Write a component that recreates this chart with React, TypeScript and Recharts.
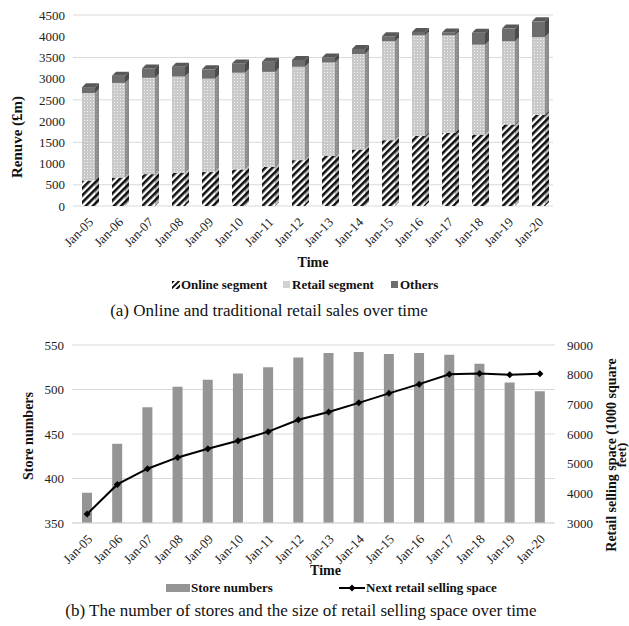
import { BarChart, Bar, ComposedChart, Line, XAxis, YAxis, CartesianGrid, Legend } from 'recharts';

const months = ['Jan-05', 'Jan-06', 'Jan-07', 'Jan-08', 'Jan-09', 'Jan-10', 'Jan-11', 'Jan-12', 'Jan-13', 'Jan-14', 'Jan-15', 'Jan-16', 'Jan-17', 'Jan-18', 'Jan-19', 'Jan-20'];
const onlineSegment = [600, 670, 750, 780, 800, 860, 920, 1080, 1180, 1330, 1550, 1650, 1720, 1680, 1920, 2150];
const retailSegment = [2060, 2230, 2270, 2270, 2200, 2280, 2240, 2200, 2200, 2250, 2330, 2370, 2300, 2120, 1960, 1830];
const others = [140, 170, 220, 230, 220, 220, 240, 160, 120, 120, 120, 80, 70, 280, 300, 370];
const revenueTicks = [0, 500, 1000, 1500, 2000, 2500, 3000, 3500, 4000, 4500];

const storeNumbers = [384, 439, 480, 503, 511, 518, 525, 536, 541, 542, 540, 541, 539, 529, 508, 498];
const sellingSpace = [3300, 4300, 4830, 5210, 5500, 5770, 6080, 6480, 6740, 7050, 7370, 7680, 8010, 8040, 8000, 8030];
const storeTicks = [350, 400, 450, 500, 550];
const spaceTicks = [3000, 4000, 5000, 6000, 7000, 8000, 9000];

const revenueData = months.map((m, i) => ({ month: m, online: onlineSegment[i], retail: retailSegment[i], others: others[i] }));
const storeData = months.map((m, i) => ({ month: m, stores: storeNumbers[i], space: sellingSpace[i] }));

const FONT = '"Liberation Serif", "Times New Roman", serif';
const D = 4;

const AngledTick = (props: any) => {
  const { x, y, payload } = props;
  return (
    <g transform={`translate(${x + 6},${y + 17}) rotate(-45)`}>
      <text textAnchor="end" fontSize={13} fontFamily={FONT} fill="#222">{payload.value}</text>
    </g>
  );
};

const make3D = (isTop: boolean, side: string, topColor?: string) => (props: any) => {
  const { x, y, width, height, fill } = props;
  if (!height || height <= 0) return null;
  const sidePath = `M${x + width},${y} L${x + width + D},${y - D} L${x + width + D},${y + height - D} L${x + width},${y + height} Z`;
  return (
    <g>
      <rect x={x} y={y} width={width} height={height} fill={fill} />
      <path d={sidePath} fill={fill} />
      <path d={sidePath} fill={side} />
      {isTop && <path d={`M${x},${y} L${x + D},${y - D} L${x + width + D},${y - D} L${x + width},${y} Z`} fill={topColor} />}
    </g>
  );
};

const Diamond = (props: any) => {
  const { cx, cy } = props;
  if (cx == null || cy == null) return null;
  return <path d={`M${cx},${cy - 3.5} L${cx + 3.5},${cy} L${cx},${cy + 3.5} L${cx - 3.5},${cy} Z`} fill="#000" />;
};

const TopLegend = () => (
  <div style={{ position: 'relative', width: 629, height: 30, fontFamily: FONT, fontWeight: 'bold', fontSize: 13, color: '#111' }}>
    <svg width={8} height={8} style={{ position: 'absolute', left: 172, top: 11 }}>
      <rect width={8} height={8} fill="url(#hatchLegend)" />
    </svg>
    <span style={{ position: 'absolute', left: 181, top: 7 }}>Online segment</span>
    <span style={{ position: 'absolute', left: 283, top: 11, width: 7, height: 7, background: '#d2d2d2' }} />
    <span style={{ position: 'absolute', left: 292, top: 7 }}>Retail segment</span>
    <span style={{ position: 'absolute', left: 391, top: 11, width: 7, height: 7, background: '#6d6d6d' }} />
    <span style={{ position: 'absolute', left: 400, top: 7 }}>Others</span>
  </div>
);

const BottomLegend = () => (
  <div style={{ position: 'relative', width: 629, height: 25, fontFamily: FONT, fontWeight: 'bold', fontSize: 13, color: '#111' }}>
    <span style={{ position: 'absolute', left: 166, top: 9, width: 24, height: 8, background: '#959595' }} />
    <span style={{ position: 'absolute', left: 191, top: 5 }}>Store numbers</span>
    <svg width={26} height={10} style={{ position: 'absolute', left: 339, top: 8 }}>
      <line x1={0} y1={5} x2={26} y2={5} stroke="#000" strokeWidth={2} />
      <path d="M13,1.5 L16.5,5 L13,8.5 L9.5,5 Z" fill="#000" />
    </svg>
    <span style={{ position: 'absolute', left: 366, top: 5 }}>Next retail selling space</span>
  </div>
);

export default function App() {
  return (
    <div style={{ position: 'absolute', left: 0, top: 0, width: 629, height: 626, background: '#fff', fontFamily: FONT, overflow: 'hidden' }}>
      <div style={{ position: 'absolute', left: 0, top: 0 }}>
        <BarChart width={629} height={300} data={revenueData} margin={{ top: 15, right: 76, left: 0, bottom: 0 }} barSize={13}>
          <defs>
            <pattern id="hatch" patternUnits="userSpaceOnUse" width={5} height={5} patternTransform="rotate(45)">
              <rect width={5} height={5} fill="#fff" />
              <rect width={2.6} height={5} fill="#111" />
            </pattern>
            <pattern id="hatchLegend" patternUnits="userSpaceOnUse" width={4} height={4} patternTransform="rotate(45)">
              <rect width={4} height={4} fill="#fff" />
              <rect width={2} height={4} fill="#111" />
            </pattern>
            <pattern id="dots" patternUnits="userSpaceOnUse" width={3} height={3}>
              <rect width={3} height={3} fill="#c9c9c9" />
              <rect width={1} height={1} fill="#f2f2f2" />
            </pattern>
          </defs>
          <CartesianGrid vertical={false} stroke="#d9d9d9" />
          <XAxis
            dataKey="month"
            height={64}
            interval={0}
            axisLine={false}
            tickLine={false}
            tickSize={0}
            tickMargin={0}
            tick={<AngledTick />}
            label={{ value: 'Time', position: 'insideBottom', offset: 3, fontSize: 14, fontWeight: 'bold', fontFamily: FONT, fill: '#111' }}
          />
          <YAxis
            width={73}
            domain={[0, 4500]}
            ticks={revenueTicks}
            axisLine={false}
            tickLine={false}
            tick={{ fontSize: 13, fontFamily: FONT, fill: '#222' }}
            label={{
              content: () => (
                <text x={17} y={137} transform="rotate(-90 17 137)" textAnchor="middle" dominantBaseline="central" fontSize={15} fontWeight="bold" fontFamily={FONT} fill="#111">
                  Renuve (£m)
                </text>
              ),
            }}
          />
          <Legend verticalAlign="bottom" height={30} wrapperStyle={{ left: 0, width: 629 }} content={<TopLegend />} />
          <Bar dataKey="online" name="Online segment" stackId="a" fill="url(#hatch)" isAnimationActive={false} shape={make3D(false, 'rgba(0,0,0,0.25)')} />
          <Bar dataKey="retail" name="Retail segment" stackId="a" fill="url(#dots)" isAnimationActive={false} shape={make3D(false, 'rgba(0,0,0,0.3)')} />
          <Bar dataKey="others" name="Others" stackId="a" fill="#6d6d6d" isAnimationActive={false} shape={make3D(true, 'rgba(0,0,0,0.3)', '#585858')} />
        </BarChart>
      </div>
      <div style={{ position: 'absolute', left: 0, top: 301, width: 629 }}>
        <span style={{ position: 'absolute', left: 269, transform: 'translateX(-50%)', whiteSpace: 'nowrap', fontSize: 17, color: '#111' }}>
          (a) Online and traditional retail sales over time
        </span>
      </div>

      <div style={{ position: 'absolute', left: 0, top: 330 }}>
        <ComposedChart width={629} height={270} data={storeData} margin={{ top: 15, right: 0, left: 0, bottom: 0 }}>
          <CartesianGrid vertical={false} stroke="#d9d9d9" yAxisId="left" />
          <XAxis
            dataKey="month"
            height={52}
            interval={0}
            axisLine={{ stroke: '#d9d9d9' }}
            tickLine={false}
            tickSize={0}
            tickMargin={0}
            tick={<AngledTick />}
            label={{ value: 'Time', position: 'insideBottom', offset: 0, dx: 12, fontSize: 14, fontWeight: 'bold', fontFamily: FONT, fill: '#111' }}
          />
          <YAxis
            yAxisId="left"
            width={72}
            domain={[350, 550]}
            ticks={storeTicks}
            axisLine={false}
            tickLine={false}
            tick={{ fontSize: 13, fontFamily: FONT, fill: '#222' }}
            label={{
              content: () => (
                <text x={28} y={106} transform="rotate(-90 28 106)" textAnchor="middle" dominantBaseline="central" fontSize={14} fontWeight="bold" fontFamily={FONT} fill="#111">
                  Store numbers
                </text>
              ),
            }}
          />
          <YAxis
            yAxisId="right"
            orientation="right"
            width={74}
            domain={[3000, 9000]}
            ticks={spaceTicks}
            axisLine={false}
            tickLine={false}
            tickMargin={6}
            tick={{ fontSize: 13, fontFamily: FONT, fill: '#222', textAnchor: 'start' }}
            label={{
              content: () => (
                <g>
                  <text x={611} y={125} transform="rotate(-90 611 125)" textAnchor="middle" dominantBaseline="central" fontSize={14} fontWeight="bold" fontFamily={FONT} fill="#111">
                    Retail selling space (1000 square
                  </text>
                  <text x={621} y={125} transform="rotate(-90 621 125)" textAnchor="middle" dominantBaseline="central" fontSize={13} fontWeight="bold" fontFamily={FONT} fill="#111">
                    feet)
                  </text>
                </g>
              ),
            }}
          />
          <Legend verticalAlign="bottom" height={25} wrapperStyle={{ left: 0, width: 629 }} content={<BottomLegend />} />
          <Bar yAxisId="left" dataKey="stores" name="Store numbers" fill="#959595" barSize={10} isAnimationActive={false} />
          <Line yAxisId="right" dataKey="space" name="Next retail selling space" stroke="#000" strokeWidth={2} dot={<Diamond />} activeDot={false} isAnimationActive={false} />
        </ComposedChart>
      </div>
      <div style={{ position: 'absolute', left: 0, top: 601, width: 629 }}>
        <span style={{ position: 'absolute', left: 301, transform: 'translateX(-50%)', whiteSpace: 'nowrap', fontSize: 17, color: '#111' }}>
          (b) The number of stores and the size of retail selling space over time
        </span>
      </div>
    </div>
  );
}
